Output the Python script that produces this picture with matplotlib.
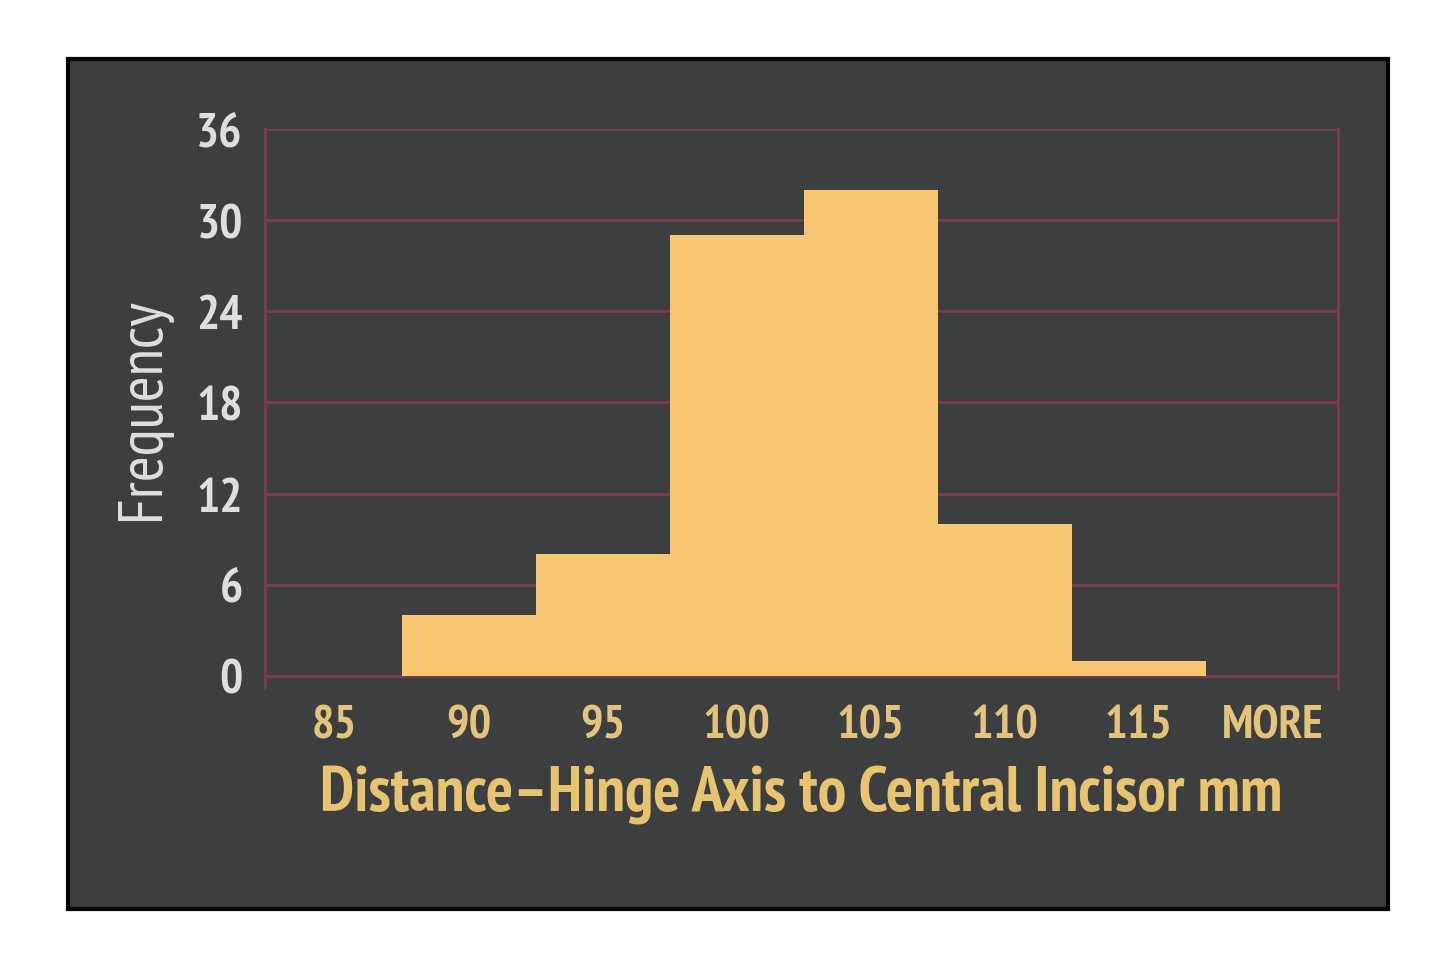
import matplotlib.pyplot as plt
from matplotlib.patches import Rectangle

# histogram bins (mm) and counts
bins = ['85', '90', '95', '100', '105', '110', '115', 'MORE']
freq = [0, 4, 8, 29, 32, 10, 1, 0]
yticks = [0, 6, 12, 18, 24, 30, 36]

plt.rcParams['font.family'] = ['PT Sans Narrow', 'DejaVu Sans']

fig = plt.figure(figsize=(14.4, 9.7), dpi=100)
fig.patch.set_facecolor('white')

# dark panel with black frame
fig.patches.append(Rectangle((68 / 1440, 1 - 910 / 970), 1320 / 1440, 850 / 970,
                             transform=fig.transFigure, facecolor='#3c3e40',
                             edgecolor='black', linewidth=3, zorder=-5))

ax = fig.add_axes([265 / 1440, 1 - 689 / 970, (1338 - 265) / 1440, (689 - 130) / 970])
ax.set_facecolor('none')

grid_c = '#7a3a4d'
ax.bar(range(len(bins)), freq, width=1.0, color='#f6c672', zorder=3)

ax.set_xlim(-0.52, 7.485)
ax.set_ylim(-0.8, 36)
ax.set_yticks(yticks)
ax.set_xticks(range(len(bins)))
ax.set_xticklabels(bins)
ax.yaxis.grid(True, color=grid_c, linewidth=2.2)
ax.set_axisbelow(True)

for s in ['top', 'bottom']:
    ax.spines[s].set_visible(False)
for s in ['left', 'right']:
    ax.spines[s].set_color(grid_c)
    ax.spines[s].set_linewidth(2.2)

ax.tick_params(axis='y', length=0, pad=16, labelsize=35, labelcolor='#dedede')
ax.tick_params(axis='x', length=0, pad=12, labelsize=34, labelcolor='#e4c37c')
for t in ax.get_xticklabels() + ax.get_yticklabels():
    t.set_fontweight('bold')

ax.set_xlabel('Distance\u2013Hinge Axis to Central Incisor mm', fontsize=46,
              color='#e8c470', fontweight='bold', labelpad=13)
ax.set_ylabel('Frequency', fontsize=45, color='#dedede', labelpad=18)

fig.savefig('out.png', dpi=100)
